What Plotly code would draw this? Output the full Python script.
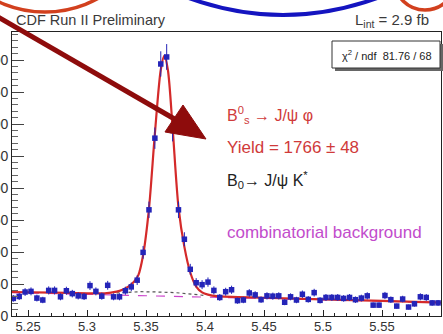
import plotly.graph_objects as go

# ---- data ----
mass = [5.2375, 5.2425, 5.2475, 5.2525, 5.2575, 5.2625, 5.2675, 5.2725, 5.2775, 5.2825,
        5.2875, 5.2925, 5.2975, 5.3025, 5.3075, 5.3125, 5.3175, 5.3225, 5.3275, 5.3325,
        5.3375, 5.3425, 5.3475, 5.3525, 5.3575, 5.3625, 5.3675, 5.3725, 5.3775, 5.3825,
        5.3875, 5.3925, 5.3975, 5.4025, 5.4075, 5.4125, 5.4175, 5.4225, 5.4275, 5.4325,
        5.4375, 5.4425, 5.4475, 5.4525, 5.4575, 5.4625, 5.4675, 5.4725, 5.4775, 5.4825,
        5.4875, 5.4925, 5.4975, 5.5025, 5.5075, 5.5125, 5.5175, 5.5225, 5.5275, 5.5325,
        5.5375, 5.5425, 5.5475, 5.5525, 5.5575, 5.5625, 5.5675, 5.5725, 5.5775, 5.5825,
        5.5875, 5.5925, 5.5975]
counts = [27.5, 30.5, 37.5, 38.5, 28, 25, 40, 40, 30, 39.5,
          35, 31.5, 30.5, 47.5, 38.5, 31, 48, 30, 30, 39.5,
          45.5, 56, 99.5, 166, 278, 394, 405, 290, 166, 120,
          73, 52, 49, 53, 40, 29, 38, 41, 24, 25,
          36, 33, 25.5, 31.5, 31, 31.5, 21.5, 30, 25, 34,
          26, 36.5, 24.5, 29, 29, 29, 27.5, 29, 25.5, 28,
          31.5, 17, 17, 32, 25.5, 15.5, 26.5, 14, 19, 30,
          29, 20.5, 20.5]

fit_mass = [5.2364, 5.27, 5.30, 5.315, 5.325, 5.33, 5.335, 5.34, 5.3435, 5.3475,
            5.3525, 5.3575, 5.3625, 5.3655, 5.3685, 5.3725, 5.3775, 5.3825, 5.3875,
            5.3925, 5.3975, 5.4025, 5.41, 5.45, 5.50, 5.55, 5.60]
fit_vals = [37.5, 36.5, 35.5, 35.5, 38, 41, 46, 54, 64, 95,
            168, 285, 385, 407, 385, 295, 170, 108, 68,
            46, 37, 33.5, 31, 28.5, 26, 23.5, 21]

bkg_mass = [5.2364, 5.6]
bkg_vals = [36.5, 21.0]

b0_mass = [5.325, 5.335, 5.345, 5.36, 5.375, 5.39, 5.40]
b0_vals = [36, 37.5, 38, 37.5, 36.5, 34, 32]

x_ticks = [5.25, 5.30, 5.35, 5.40, 5.45, 5.50, 5.55, 5.60]
x_tick_text = ["5.25", "5.3", "5.35", "5.4", "5.45", "5.5", "5.55", "5.6"]
y_ticks = [0, 50, 100, 150, 200, 250, 300, 350, 400]

fig = go.Figure()

fig.add_trace(go.Scatter(x=bkg_mass, y=bkg_vals, mode="lines",
                         line=dict(color="#cc44cc", width=1.2, dash="dash"), hoverinfo="skip"))
fig.add_trace(go.Scatter(x=b0_mass, y=b0_vals, mode="lines",
                         line=dict(color="#555555", width=1.2, dash="dot"), hoverinfo="skip"))
fig.add_trace(go.Scatter(x=fit_mass, y=fit_vals, mode="lines",
                         line=dict(color="#d42a2a", width=2.2, shape="spline", smoothing=0.8),
                         hoverinfo="skip"))
fig.add_trace(go.Scatter(x=mass, y=counts, mode="markers",
                         marker=dict(symbol="square", size=5.5, color="#2424b8"),
                         error_y=dict(type="sqrt", color="#2424b8", thickness=1, width=0)))

# ---- helper for paper coordinates from pixel positions ----
L, R, T, B = 12, 2, 32, 18
W, H = 443, 334
PW, PH = W - L - R, H - T - B


def px(x):
    return (x - L) / PW


def py(y):
    return (H - B - y) / PH


def ppath(*pts):
    """pts: sequence of (cmd, x, y) in page pixels -> path string in paper coords"""
    return " ".join("{} {:.4f},{:.4f}".format(c, px(x), py(y)) for c, x, y in pts)


shapes = []
# logo arcs at the top
shapes.append(dict(type="circle", xref="paper", yref="paper",
                   x0=px(-65), x1=px(155), y0=py(12), y1=py(-208),
                   line=dict(color="#d2401e", width=3.5)))
shapes.append(dict(type="path", xref="paper", yref="paper",
                   path="M {:.4f},{:.4f} Q {:.4f},{:.4f} {:.4f},{:.4f}".format(
                       px(186), py(-3), px(283), py(33), px(380), py(-3)),
                   line=dict(color="#1414c0", width=4)))
shapes.append(dict(type="circle", xref="paper", yref="paper",
                   x0=px(394), x1=px(456), y0=py(10), y1=py(-52),
                   line=dict(color="#d2401e", width=3.5)))
# chi2 box with shadow
shapes.append(dict(type="rect", xref="paper", yref="paper",
                   x0=px(335), x1=px(443), y0=py(71), y1=py(44),
                   fillcolor="#666666", line=dict(width=0)))
shapes.append(dict(type="rect", xref="paper", yref="paper",
                   x0=px(332), x1=px(440), y0=py(68), y1=py(41),
                   fillcolor="white", line=dict(color="#333333", width=1)))
# big arrow
shapes.append(dict(type="line", xref="paper", yref="paper",
                   x0=px(-2), y0=py(17), x1=px(178), y1=py(121),
                   line=dict(color="#8e0c0c", width=5)))
shapes.append(dict(type="path", xref="paper", yref="paper",
                   path="M {:.4f},{:.4f} L {:.4f},{:.4f} L {:.4f},{:.4f} Z".format(
                       px(206), py(139), px(165), py(132), px(183), py(105)),
                   fillcolor="#8e0c0c", line=dict(color="#8e0c0c", width=1)))

annotations = [
    dict(text="CDF Run II Preliminary", x=px(14), y=py(20), xanchor="left", yanchor="middle",
         font=dict(size=14.5, color="#3a3a3a")),
    dict(text="L<sub>int</sub> = 2.9 fb", x=px(353), y=py(20), xanchor="left", yanchor="middle",
         font=dict(size=15, color="#3a3a3a")),
    dict(text="χ<sup>2</sup> / ndf  81.76 / 68", x=px(387), y=py(55), xanchor="center", yanchor="middle",
         font=dict(size=11, color="#222222")),
    dict(text="B<sup>0</sup><sub>s</sub> → J/ψ φ", x=px(225), y=py(115), xanchor="left", yanchor="middle",
         font=dict(size=16, color="#d03a3a")),
    dict(text="Yield = 1766 ± 48", x=px(225), y=py(147), xanchor="left", yanchor="middle",
         font=dict(size=17, color="#d03a3a")),
    dict(text="B<sub>0</sub>→ J/ψ K<sup>*</sup>", x=px(225), y=py(180), xanchor="left", yanchor="middle",
         font=dict(size=16, color="#222222")),
    dict(text="combinatorial background", x=px(225), y=py(232), xanchor="left", yanchor="middle",
         font=dict(size=17, color="#c24ccc")),
]
for a in annotations:
    a.update(xref="paper", yref="paper", showarrow=False)

fig.update_layout(
    width=W, height=H,
    margin=dict(l=L, r=R, t=T, b=B, pad=0, autoexpand=False),
    paper_bgcolor="white", plot_bgcolor="white",
    showlegend=False,
    font=dict(family="Liberation Sans, Arial, sans-serif"),
    shapes=shapes, annotations=annotations,
    xaxis=dict(range=[5.2364, 5.6], tickvals=x_ticks, ticktext=x_tick_text,
               ticks="inside", ticklen=6, tickcolor="#222222", showline=True,
               linecolor="#222222", mirror=True, showgrid=False, zeroline=False,
               automargin=False, ticklabelstandoff=-2,
               tickfont=dict(size=13, color="#333333"),
               minor=dict(dtick=0.01, tick0=5.25, ticks="inside", ticklen=3, tickcolor="#222222")),
    yaxis=dict(range=[0, 444], tickvals=y_ticks, ticks="inside", ticklen=12,
               tickcolor="#444444", showline=True, linecolor="#222222", mirror=True,
               showgrid=False, zeroline=False, automargin=False,
               tickfont=dict(size=14, color="#333333"),
               minor=dict(dtick=10, tick0=0, ticks="inside", ticklen=6, tickcolor="#666666")),
)

fig.write_html("out.html", config={"displayModeBar": False},
               post_script="document.body.style.margin='0';document.body.style.padding='0';")
